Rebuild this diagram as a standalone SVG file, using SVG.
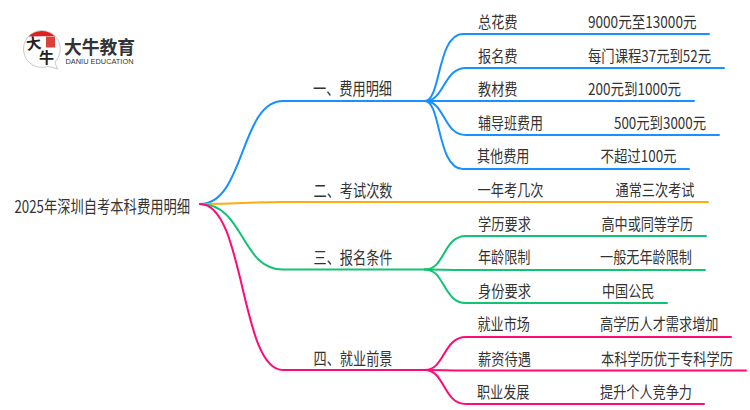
<svg xmlns="http://www.w3.org/2000/svg" width="750" height="410" viewBox="0 0 750 410">
<style>
text{font-family:"Noto Sans CJK SC","Noto Sans",sans-serif;font-size:16px;fill:#333}
.big{font-size:17px}
.c{fill:none;stroke-width:2;stroke-linecap:round}
.b{stroke:#1890ff}.o{stroke:#ffab0f}.g{stroke:#12c373}.p{stroke:#ff0a78}
</style>
<rect width="750" height="410" fill="#fff"/>
<g id="logo">
<path d="M42 30.500A18.500 18.500 0 1 0 48 66.500Q53 67 57.500 69Q55.500 65 55 62A18.500 18.500 0 0 0 42 30.500Z" fill="#fff" stroke="#bbb" stroke-width="0.8"/>
<path d="M28.500 36.500A18.500 18.500 0 0 1 54.500 36Z" fill="#e0201c"/>
<rect x="46" y="36.500" width="9" height="11" fill="#d9423c"/>
<text x="27" y="50" style="font-size:15px;font-weight:700;fill:#222" transform="rotate(-8 27 50)">大</text>
<text x="39" y="63" style="font-size:15px;font-weight:700;fill:#222">牛</text>
<text x="64" y="54" textLength="71" lengthAdjust="spacingAndGlyphs" style="font-size:18px;font-weight:700;fill:#333">大牛教育</text>
<text x="65.500" y="63.500" textLength="68" lengthAdjust="spacingAndGlyphs" style="font-family:'Liberation Sans',sans-serif;font-size:7px;fill:#333">DANIU EDUCATION</text>
</g>
<g id="connectors">
<path class="c b" d="M200 204C245 204 240 101 283 101H425"/>
<path class="c b" d="M425 101C441 101 437 34 463 34H709"/>
<path class="c b" d="M425 101C445 101 443 68 466 68H724"/>
<path class="c b" d="M425 101H694"/>
<path class="c b" d="M425 101C445 101 443 135 466 135H719"/>
<path class="c b" d="M425 101C441 101 437 169 463 169H689"/>
<path class="c o" d="M200 204C245 204 240 202 283 202H708"/>
<path class="c g" d="M200 204C245 204 240 269.500 283 269.500H425"/>
<path class="c g" d="M425 269.500C445 269.500 443 236 466 236H706"/>
<path class="c g" d="M425 269.500C445 269.500 443 270 466 270H705"/>
<path class="c g" d="M425 269.500C445 269.500 443 303 466 303H667"/>
<path class="c p" d="M200 204C245 204 240 370 283 370H425"/>
<path class="c p" d="M425 370C445 370 443 337 466 337H731"/>
<path class="c p" d="M425 370C445 370 443 370.500 466 370.500H746"/>
<path class="c p" d="M425 370C445 370 443 404 466 404H704"/>
</g>
<g id="root"><text class="big" x="14.500" y="212.500" textLength="175.500" lengthAdjust="spacingAndGlyphs">2025年深圳自考本科费用明细</text></g>
<g id="n1"><text class="big" x="313" y="95" textLength="79" lengthAdjust="spacingAndGlyphs">一、费用明细</text></g>
<g id="n1-1"><text x="478" y="27.500" textLength="39.500" lengthAdjust="spacingAndGlyphs">总花费</text><text x="588" y="27.500" textLength="108.500" lengthAdjust="spacingAndGlyphs">9000元至13000元</text></g>
<g id="n1-2"><text x="478" y="61.500" textLength="39.500" lengthAdjust="spacingAndGlyphs">报名费</text><text x="588" y="61.500" textLength="123" lengthAdjust="spacingAndGlyphs">每门课程37元到52元</text></g>
<g id="n1-3"><text x="478" y="95" textLength="39.500" lengthAdjust="spacingAndGlyphs">教材费</text><text x="588" y="95" textLength="93" lengthAdjust="spacingAndGlyphs">200元到1000元</text></g>
<g id="n1-4"><text x="478" y="128.500" textLength="65" lengthAdjust="spacingAndGlyphs">辅导班费用</text><text x="614" y="128.500" textLength="92" lengthAdjust="spacingAndGlyphs">500元到3000元</text></g>
<g id="n1-5"><text x="477" y="162" textLength="52.500" lengthAdjust="spacingAndGlyphs">其他费用</text><text x="600.500" y="162" textLength="76" lengthAdjust="spacingAndGlyphs">不超过100元</text></g>
<g id="n2"><text class="big" x="313.500" y="196.500" textLength="79" lengthAdjust="spacingAndGlyphs">二、考试次数</text></g>
<g id="n2-1"><text x="477.500" y="195.500" textLength="66" lengthAdjust="spacingAndGlyphs">一年考几次</text><text x="615.500" y="195.500" textLength="79" lengthAdjust="spacingAndGlyphs">通常三次考试</text></g>
<g id="n3"><text class="big" x="313.500" y="263.500" textLength="79" lengthAdjust="spacingAndGlyphs">三、报名条件</text></g>
<g id="n3-1"><text x="478" y="229.500" textLength="53" lengthAdjust="spacingAndGlyphs">学历要求</text><text x="601.500" y="229.500" textLength="91.500" lengthAdjust="spacingAndGlyphs">高中或同等学历</text></g>
<g id="n3-2"><text x="478" y="262.500" textLength="52.500" lengthAdjust="spacingAndGlyphs">年龄限制</text><text x="600" y="262.500" textLength="92" lengthAdjust="spacingAndGlyphs">一般无年龄限制</text></g>
<g id="n3-3"><text x="478" y="296.500" textLength="53" lengthAdjust="spacingAndGlyphs">身份要求</text><text x="602" y="296.500" textLength="52.500" lengthAdjust="spacingAndGlyphs">中国公民</text></g>
<g id="n4"><text class="big" x="313.500" y="365" textLength="79" lengthAdjust="spacingAndGlyphs">四、就业前景</text></g>
<g id="n4-1"><text x="477.500" y="329.500" textLength="52.500" lengthAdjust="spacingAndGlyphs">就业市场</text><text x="600" y="329.500" textLength="118.500" lengthAdjust="spacingAndGlyphs">高学历人才需求增加</text></g>
<g id="n4-2"><text x="478" y="364.500" textLength="53" lengthAdjust="spacingAndGlyphs">薪资待遇</text><text transform="translate(601 364.500) scale(.825 1)">本科学历优于专科学历</text></g>
<g id="n4-3"><text x="477" y="397.500" textLength="52.500" lengthAdjust="spacingAndGlyphs">职业发展</text><text x="600" y="397.500" textLength="92" lengthAdjust="spacingAndGlyphs">提升个人竞争力</text></g>
</svg>
